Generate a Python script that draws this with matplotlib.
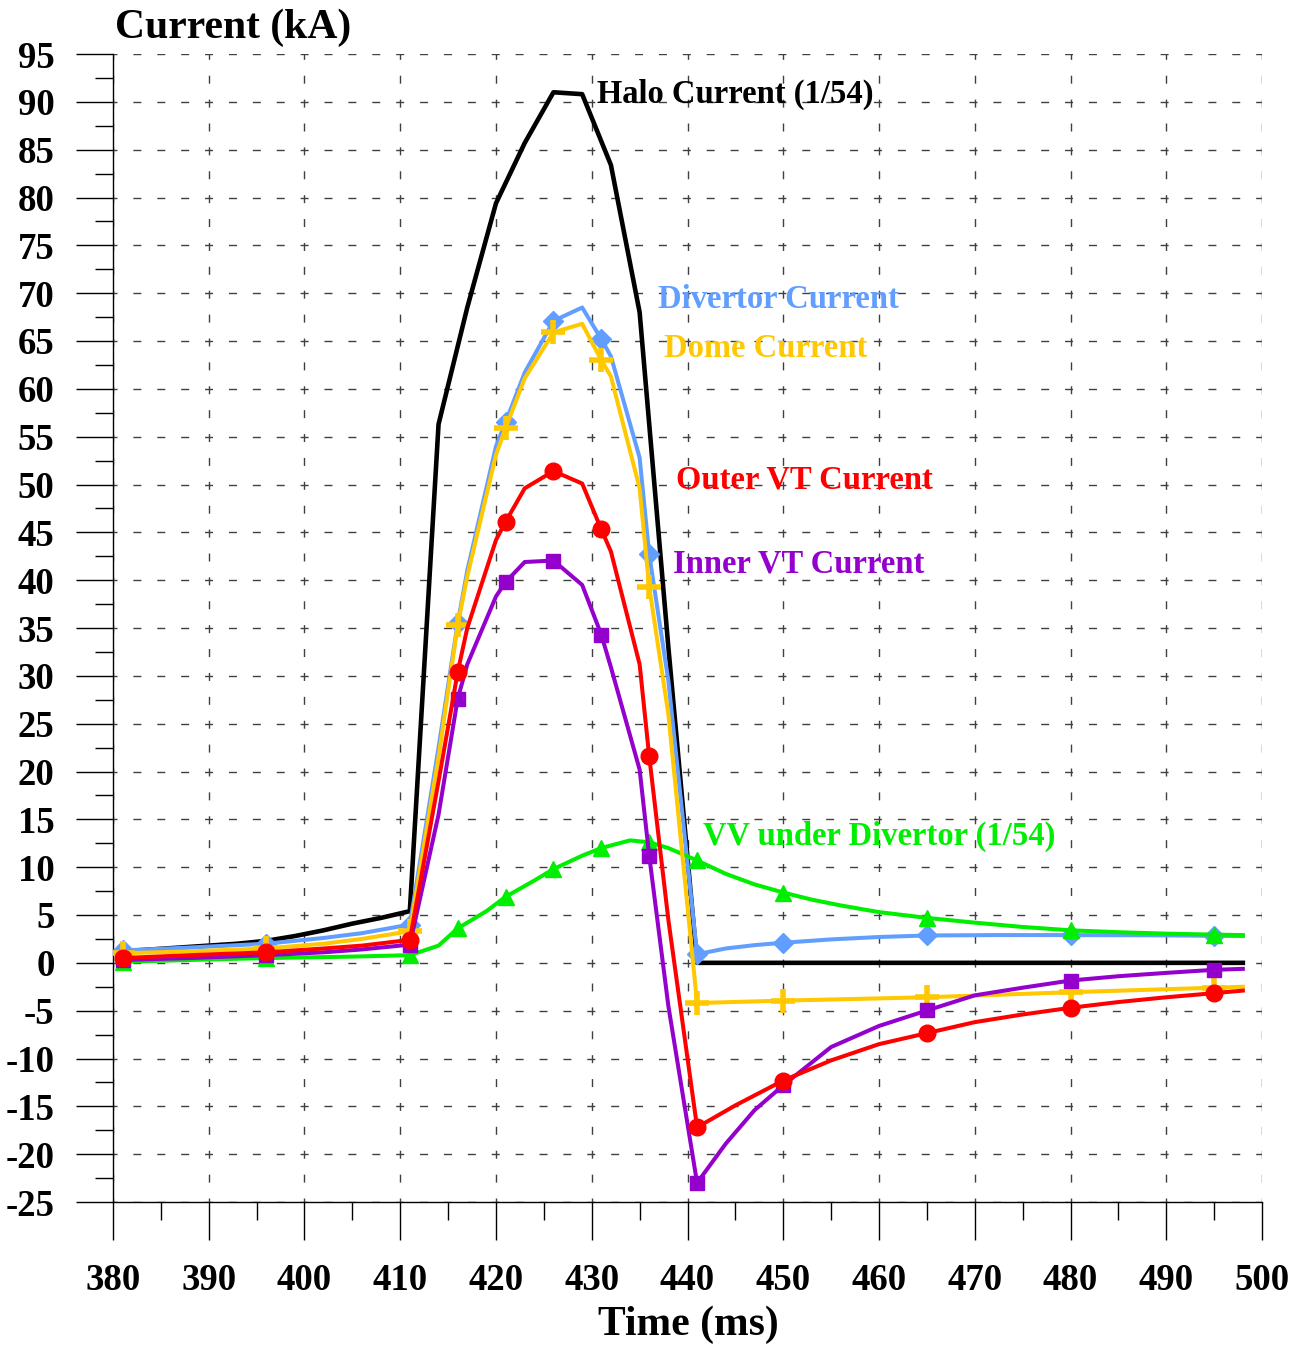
import matplotlib
matplotlib.use("Agg")
from matplotlib import pyplot as plt
from matplotlib.ticker import MultipleLocator

plt.rcParams["font.family"] = ["Liberation Serif", "DejaVu Serif"]
plt.rcParams["font.weight"] = "bold"
plt.rcParams["axes.unicode_minus"] = False

# marker positions shared by all coloured series (ms)
marker_t = [381, 396, 411, 416, 421, 426, 431, 436, 441, 450, 465, 480, 495]

halo_t = [381, 384, 387, 390, 393, 396, 399, 402, 405, 408, 411, 414, 417, 420,
          423, 426, 429, 432, 435, 438, 441, 498]
halo = [1.2, 1.4, 1.6, 1.8, 2.0, 2.3, 2.8, 3.4, 4.1, 4.7, 5.4, 56.3, 68.5, 79.4,
        85.7, 91.0, 90.8, 83.4, 68.0, 33.0, 0.0, 0.0]

div_t = [381, 388, 396, 402, 406, 411, 414, 416, 417, 420, 421, 423, 426, 429,
         431, 432, 435, 436, 438, 441, 444, 447, 450, 455, 460, 465, 472, 480,
         488, 495, 498]
div = [1.3, 1.6, 2.0, 2.6, 3.1, 4.0, 22.5, 35.5, 41.0, 54.0, 56.5, 61.7, 67.1,
       68.5, 65.2, 63.4, 52.8, 42.7, 29.5, 0.9, 1.5, 1.85, 2.1, 2.45, 2.7, 2.86,
       2.9, 2.9, 2.88, 2.83, 2.8]

dome_t = [381, 388, 396, 402, 406, 411, 414, 416, 417, 420, 421, 423, 426, 429,
          431, 432, 435, 436, 438, 441, 450, 465, 480, 495, 498]
dome = [1.0, 1.2, 1.5, 2.0, 2.5, 3.3, 21.5, 35.3, 40.4, 53.1, 55.9, 61.1, 65.9,
        66.8, 63.0, 61.3, 49.6, 39.3, 26.0, -4.2, -3.95, -3.6, -3.07, -2.6, -2.5]

outer_t = [381, 388, 396, 402, 406, 411, 414, 416, 417, 420, 421, 423, 426, 429,
           431, 432, 435, 436, 438, 441, 445, 450, 455, 460, 465, 470, 475, 480,
           485, 490, 495, 498]
outer = [0.5, 0.8, 1.1, 1.5, 1.8, 2.4, 19.0, 30.4, 35.0, 44.2, 46.1, 49.6, 51.4,
         50.1, 45.3, 43.0, 31.2, 21.6, 4.5, -17.2, -14.9, -12.3, -10.2, -8.5,
         -7.35, -6.2, -5.4, -4.7, -4.1, -3.6, -3.17, -2.9]

inner_t = [381, 388, 396, 402, 406, 411, 414, 416, 417, 420, 421, 423, 426, 429,
           431, 432, 435, 436, 438, 441, 444, 447, 450, 455, 460, 465, 470, 475,
           480, 485, 490, 495, 498]
inner = [0.3, 0.5, 0.8, 1.1, 1.4, 1.9, 15.5, 27.6, 31.2, 38.3, 39.8, 41.9, 42.05,
         39.5, 34.3, 30.9, 20.2, 11.2, -4.5, -23.0, -18.9, -15.4, -12.8, -8.8,
         -6.6, -4.98, -3.4, -2.6, -1.85, -1.4, -1.05, -0.73, -0.63]

vv_t = [381, 388, 396, 405, 411, 414, 416, 419, 421, 424, 426, 429, 431, 434,
        436, 438, 441, 444, 447, 450, 453, 456, 460, 465, 470, 475, 480, 485,
        490, 495, 498]
vv = [0.1, 0.3, 0.5, 0.65, 0.8, 1.8, 3.6, 5.4, 6.9, 8.6, 9.8, 11.2, 12.0, 12.8,
      12.6, 12.0, 10.7, 9.3, 8.2, 7.35, 6.6, 6.0, 5.3, 4.7, 4.2, 3.75, 3.4, 3.2,
      3.05, 2.95, 2.9]

labels = ["Halo Current (1/54)", "Divertor Current", "Dome Current",
          "Outer VT Current", "Inner VT Current", "VV under Divertor (1/54)"]

BLUE = "#629eff"
GOLD = "#ffc800"
RED = "#ff0000"
PURPLE = "#9400cc"
GREEN = "#00ee00"


def marks(t):
    return [i for i, v in enumerate(t) if v in marker_t]


fig = plt.figure(figsize=(13.05, 13.49), dpi=100)
ax = fig.add_axes([113 / 1305, 1 - 1202 / 1349, (1262 - 113) / 1305, (1202 - 54) / 1349])

lw = 2.9
ax.plot(halo_t, halo, color="black", lw=3.3, zorder=3)
ax.plot(div_t, div, color=BLUE, lw=lw, marker="D", ms=10, markevery=marks(div_t), zorder=4)
ax.plot(vv_t, vv, color=GREEN, lw=lw, marker="^", ms=12, markevery=marks(vv_t), zorder=5)
ax.plot(dome_t, dome, color=GOLD, lw=lw, marker="+", ms=17, mew=4, markevery=marks(dome_t), zorder=6)
ax.plot(inner_t, inner, color=PURPLE, lw=lw, marker="s", ms=10.5, markevery=marks(inner_t), zorder=7)
ax.plot(outer_t, outer, color=RED, lw=lw, marker="o", ms=12, markevery=marks(outer_t), zorder=8)

fs = 23.5
ax.text(430.5, 89.9, labels[0], color="black", fontsize=fs, zorder=10)
ax.text(436.9, 68.5, labels[1], color=BLUE, fontsize=fs, zorder=10)
ax.text(437.5, 63.3, labels[2], color=GOLD, fontsize=fs, zorder=10)
ax.text(438.8, 49.6, labels[3], color=RED, fontsize=fs, zorder=10)
ax.text(438.5, 40.8, labels[4], color=PURPLE, fontsize=fs, zorder=10)
ax.text(441.65, 12.3, labels[5], color=GREEN, fontsize=fs, zorder=10)

ax.set_xlim(380, 500)
ax.set_ylim(-25, 95)
ax.xaxis.set_major_locator(MultipleLocator(10))
ax.xaxis.set_minor_locator(MultipleLocator(5))
ax.yaxis.set_major_locator(MultipleLocator(5))
ax.yaxis.set_minor_locator(MultipleLocator(2.5))

ax.grid(True, which="major", color="#404040", lw=1.0, linestyle=(2.875, (5.75, 11.45)), zorder=1)
ax.tick_params(which="major", direction="out", length=27, width=1, labelsize=26.5)
ax.tick_params(axis="x", which="major", pad=17)
ax.tick_params(axis="y", which="major", pad=15)
ax.tick_params(which="minor", direction="out", length=13, width=1)

for side in ["top", "right"]:
    ax.spines[side].set_visible(False)
for side in ["left", "bottom"]:
    ax.spines[side].set_linewidth(1)

fig.text(115 / 1305, 1 - 28 / 1349, "Current (kA)", fontsize=30, ha="left", va="center")
fig.text(688 / 1305, 1 - 1325 / 1349, "Time (ms)", fontsize=30, ha="center", va="center")

fig.savefig("out.png", dpi=100)
